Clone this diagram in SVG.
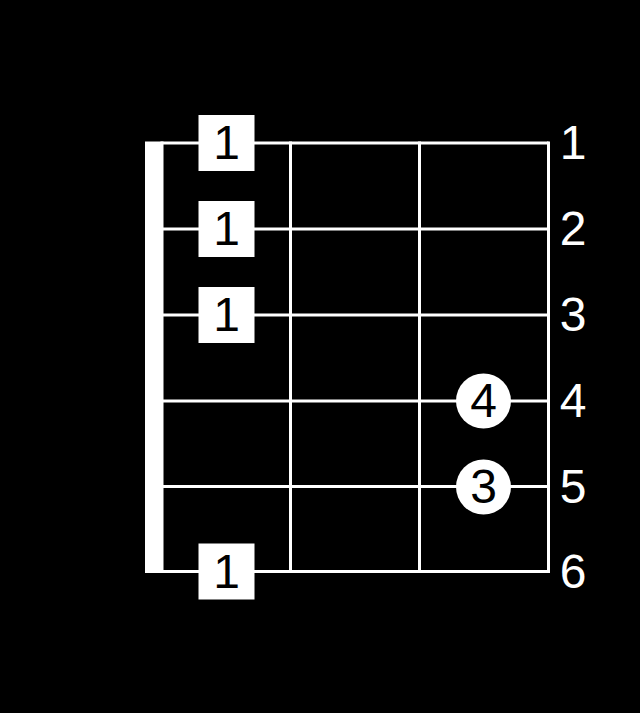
<svg xmlns="http://www.w3.org/2000/svg" width="640" height="713" viewBox="0 0 640 713">
<style>
.ln{stroke:#fff;stroke-width:3;fill:none}
.mk{fill:#fff}
.t{font-family:"Liberation Sans",Arial,sans-serif;font-size:48px;text-anchor:middle}
.lbl{fill:#fff}
.in{fill:#000}
</style>
<rect width="640" height="713" fill="#000"/>
<g id="connectors">
<line class="ln" x1="162" y1="143" x2="548.5" y2="143"/>
<line class="ln" x1="162" y1="229" x2="548.5" y2="229"/>
<line class="ln" x1="162" y1="315" x2="548.5" y2="315"/>
<line class="ln" x1="162" y1="401" x2="548.5" y2="401"/>
<line class="ln" x1="162" y1="486.5" x2="548.5" y2="486.5"/>
<line class="ln" x1="162" y1="571.5" x2="548.5" y2="571.5"/>
<line class="ln" x1="162" y1="141.5" x2="162" y2="573"/>
<line class="ln" x1="290.5" y1="141.5" x2="290.5" y2="573"/>
<line class="ln" x1="419.5" y1="141.5" x2="419.5" y2="573"/>
<line class="ln" x1="548.5" y1="141.5" x2="548.5" y2="573"/>
</g>
<g id="nut"><rect class="mk" x="145" y="141.5" width="17" height="431.5"/></g>
<g id="m1"><rect class="mk" x="198.5" y="115" width="56" height="56"/><text class="t in" x="226.5" y="159">1</text></g>
<g id="m2"><rect class="mk" x="198.5" y="201" width="56" height="56"/><text class="t in" x="226.5" y="245">1</text></g>
<g id="m3"><rect class="mk" x="198.5" y="287" width="56" height="56"/><text class="t in" x="226.5" y="331">1</text></g>
<g id="m4"><circle class="mk" cx="483.5" cy="401" r="27.5"/><text class="t in" x="483.5" y="417">4</text></g>
<g id="m5"><circle class="mk" cx="483.5" cy="487" r="27.5"/><text class="t in" x="483.5" y="503">3</text></g>
<g id="m6"><rect class="mk" x="198.5" y="543.5" width="56" height="56"/><text class="t in" x="226.5" y="587.5">1</text></g>
<g id="labels">
<text class="t lbl" x="573" y="159">1</text>
<text class="t lbl" x="573" y="245">2</text>
<text class="t lbl" x="573" y="331">3</text>
<text class="t lbl" x="573" y="417">4</text>
<text class="t lbl" x="573" y="503">5</text>
<text class="t lbl" x="573" y="588">6</text>
</g>
</svg>
